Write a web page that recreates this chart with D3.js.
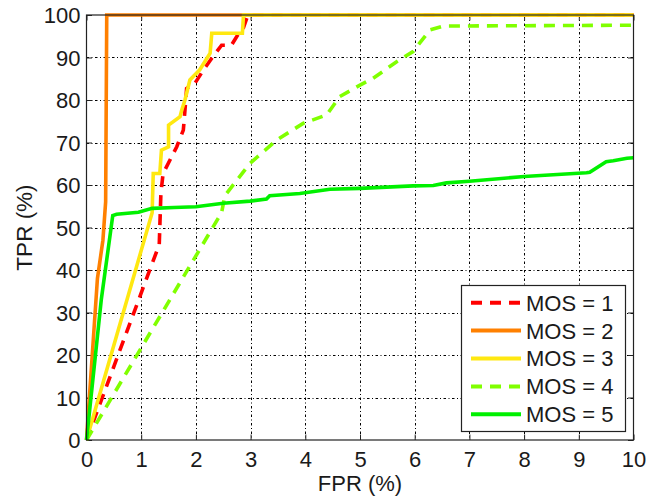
<!DOCTYPE html>
<html>
<head>
<meta charset="utf-8">
<script src="https://cdn.jsdelivr.net/npm/d3@7"></script>
<style>
  html, body { margin: 0; padding: 0; background: #fff; }
  svg { display: block; }
  text { font-family: "Liberation Sans", Arial, Helvetica, sans-serif; fill: #1a1a1a; }
</style>
</head>
<body>
<svg id="chart" width="647" height="498"></svg>
<script>
// ROC curves per MOS level: false positive rate vs. true positive rate (%)
const xTicks = [0, 1, 2, 3, 4, 5, 6, 7, 8, 9, 10];
const yTicks = [0, 10, 20, 30, 40, 50, 60, 70, 80, 90, 100];

const mosLabels = ["MOS = 1", "MOS = 2", "MOS = 3", "MOS = 4", "MOS = 5"];
const mosColors = ["#ff0000", "#ff8000", "#ffe810", "#80ff00", "#00f000"];
const mosDashed = [true, false, false, true, false];

const mos1Fpr = [0, 1.33, 1.36, 1.40, 1.65, 1.77, 1.80, 1.83, 1.98, 2.14, 2.30, 2.47, 2.65, 2.75, 2.87, 2.95, 10];
const mos1Tpr = [0, 46, 58, 62.7, 69, 72.9, 77.6, 82.7, 83.9, 87.1, 90, 92.9, 92.9, 95, 97, 100, 100];

const mos2Fpr = [0, 0.2, 0.3, 0.35, 0.37, 10];
const mos2Tpr = [0, 38, 47, 56, 100, 100];

const mos3Fpr = [0, 1.2, 1.22, 1.34, 1.37, 1.5, 1.5, 1.71, 1.74, 1.8, 1.89, 2.07, 2.26, 2.29, 2.85, 2.87, 10];
const mos3Tpr = [0, 53.5, 62.7, 62.7, 68.2, 69, 74.1, 76.1, 77.6, 80, 84.7, 87.1, 91, 95.7, 95.7, 100, 100];

const mos4Fpr = [0, 2.47, 2.53, 2.99, 3.48, 3.96, 4.39, 4.63, 5.0, 5.24, 5.67, 5.97, 6.28, 6.52, 10];
const mos4Tpr = [0, 53.5, 57.5, 65.1, 70.6, 74.5, 76.5, 80.8, 83.5, 85.1, 89, 91.4, 96.5, 97.4, 97.6];

const mos5Fpr = [0, 0.27, 0.48, 0.55, 0.95, 1.2, 1.6, 2.0, 2.5, 2.99, 3.29, 3.35, 3.9, 4.45, 5.0, 5.97, 6.34, 6.58, 7.0, 8.0, 9.14, 9.2, 9.5, 9.63, 9.88, 10];
const mos5Tpr = [0, 33, 52.8, 53.1, 53.6, 54.5, 54.7, 54.9, 55.7, 56.2, 56.7, 57.5, 58.0, 59.0, 59.2, 59.8, 59.9, 60.5, 60.9, 62.0, 62.9, 63.0, 65.5, 65.7, 66.3, 66.4];

const seriesFpr = [mos1Fpr, mos2Fpr, mos3Fpr, mos4Fpr, mos5Fpr];
const seriesTpr = [mos1Tpr, mos2Tpr, mos3Tpr, mos4Tpr, mos5Tpr];

const svg = d3.select("#chart");
const m = { left: 86.5, top: 15, right: 633.5, bottom: 440 };

const x = d3.scaleLinear().domain([0, 10]).range([m.left, m.right]);
const y = d3.scaleLinear().domain([0, 100]).range([m.bottom, m.top]);

// grid
const grid = svg.append("g").attr("stroke", "#000").attr("stroke-width", 1)
  .attr("stroke-dasharray", "2.5,2.5,1,2.5").attr("fill", "none");
xTicks.slice(1, -1).forEach(v => {
  grid.append("line").attr("x1", Math.round(x(v)) + 0.5).attr("x2", Math.round(x(v)) + 0.5)
    .attr("y1", m.top).attr("y2", m.bottom);
});
yTicks.slice(1, -1).forEach(v => {
  grid.append("line").attr("y1", Math.round(y(v)) + 0.5).attr("y2", Math.round(y(v)) + 0.5)
    .attr("x1", m.left).attr("x2", m.right);
});

// axes with inward ticks on all four sides
const tickLen = 5.5;
const axisFont = 22;
const bottomAxis = d3.axisBottom(x).tickValues(xTicks).tickSizeInner(-tickLen).tickSizeOuter(0).tickPadding(11.5);
const leftAxis = d3.axisLeft(y).tickValues(yTicks).tickSizeInner(-tickLen).tickSizeOuter(0).tickPadding(6);
const topAxis = d3.axisTop(x).tickValues(xTicks).tickSizeInner(-tickLen).tickSizeOuter(0).tickFormat("");
const rightAxis = d3.axisRight(y).tickValues(yTicks).tickSizeInner(-tickLen).tickSizeOuter(0).tickFormat("");

function styleAxis(g) {
  g.select(".domain").remove();
  g.selectAll(".tick line").attr("stroke", "#222").attr("stroke-width", 1);
  g.selectAll("text").attr("font-size", axisFont).attr("fill", "#1a1a1a")
    .attr("font-family", "Liberation Sans, Arial, sans-serif");
}

svg.append("g").attr("transform", `translate(0,${m.bottom})`).call(bottomAxis).call(styleAxis)
  .selectAll("text").attr("dy", "0.71em");
svg.append("g").attr("transform", `translate(${m.left},0)`).call(leftAxis).call(styleAxis)
  .selectAll("text").attr("dy", "0.36em");
svg.append("g").attr("transform", `translate(0,${m.top})`).call(topAxis).call(styleAxis);
svg.append("g").attr("transform", `translate(${m.right},0)`).call(rightAxis).call(styleAxis);

// curves
const line = d3.line().x(d => x(d[0])).y(d => y(d[1]));
seriesFpr.forEach((fpr, i) => {
  const pts = fpr.map((v, k) => [v, seriesTpr[i][k]]);
  svg.append("path").datum(pts)
    .attr("d", line)
    .attr("fill", "none")
    .attr("stroke", mosColors[i])
    .attr("stroke-width", 3.6)
    .attr("stroke-linejoin", "miter")
    .attr("stroke-dasharray", mosDashed[i] ? "11,8" : null);
});

// frame
svg.append("rect")
  .attr("x", m.left).attr("y", m.top)
  .attr("width", m.right - m.left).attr("height", m.bottom - m.top)
  .attr("fill", "none").attr("stroke", "#222").attr("stroke-width", 1.2);

// axis titles
svg.append("text").attr("x", (m.left + m.right) / 2).attr("y", 491)
  .attr("text-anchor", "middle").attr("font-size", 22).text("FPR (%)");
svg.append("text").attr("transform", `translate(32,${(m.top + m.bottom) / 2}) rotate(-90)`)
  .attr("text-anchor", "middle").attr("font-size", 22.5).text("TPR (%)");

// legend
const lg = svg.append("g");
lg.append("rect").attr("x", 461.5).attr("y", 285.5).attr("width", 164).attr("height", 146)
  .attr("fill", "#fff").attr("stroke", "#222").attr("stroke-width", 1.2);
mosLabels.forEach((lab, i) => {
  const yy = 302.7 + i * 27.9;
  lg.append("line").attr("x1", 471).attr("x2", 521).attr("y1", yy).attr("y2", yy)
    .attr("stroke", mosColors[i]).attr("stroke-width", 4)
    .attr("stroke-dasharray", mosDashed[i] ? "11,8" : null);
  lg.append("text").attr("x", 526).attr("y", yy).attr("dy", "0.36em")
    .attr("font-size", 22).text(lab);
});
</script>
</body>
</html>
